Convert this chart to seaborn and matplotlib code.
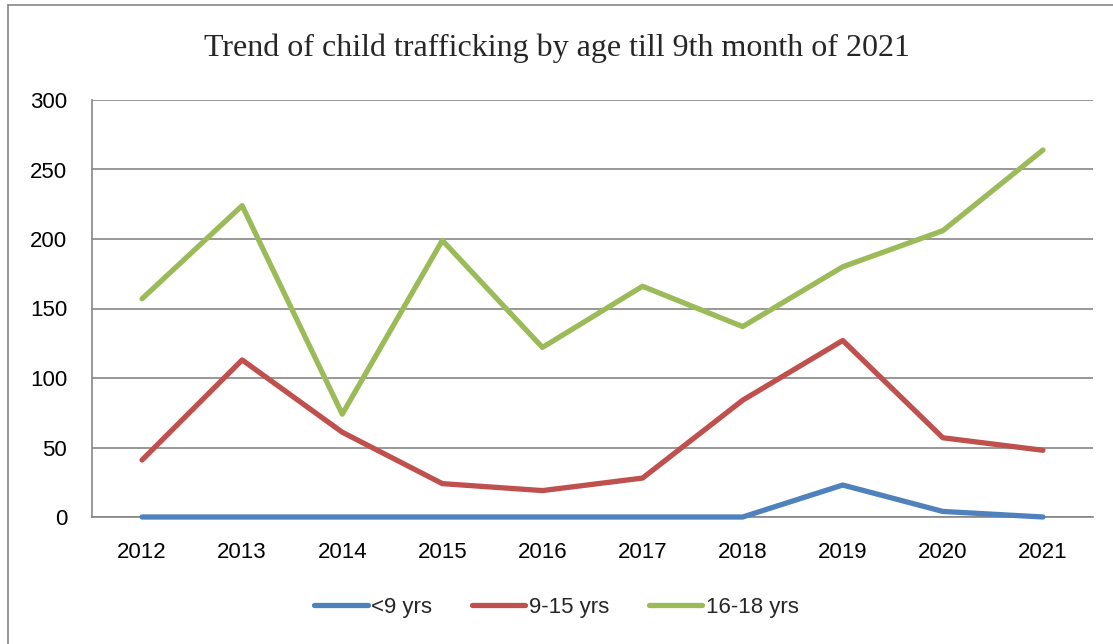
import matplotlib
matplotlib.use("Agg")
from matplotlib import pyplot as plt
from matplotlib.lines import Line2D
import pandas as pd
import seaborn as sns

years = [2012, 2013, 2014, 2015, 2016, 2017, 2018, 2019, 2020, 2021]
under_9 = [0, 0, 0, 0, 0, 0, 0, 23, 4, 0]
age_9_15 = [41, 113, 61, 24, 19, 28, 84, 127, 57, 48]
age_16_18 = [157, 224, 74, 199, 122, 166, 137, 180, 206, 264]
series_names = ["<9 yrs", "9-15 yrs", "16-18 yrs"]
colors = ["#4F81BD", "#C0504D", "#9BBB59"]

rows = []
for name, vals in zip(series_names, [under_9, age_9_15, age_16_18]):
    for i, (y, v) in enumerate(zip(years, vals)):
        rows.append({"pos": i, "year": y, "group": name, "count": v})
df = pd.DataFrame(rows)

sns.set_style("white")
plt.rcParams['font.family'] = ['Liberation Sans', 'DejaVu Sans']

fig = plt.figure(figsize=(11.13, 6.44), dpi=100)
ax = fig.add_axes([92 / 1113, 1 - 517 / 644, 1001 / 1113, 417 / 644])

sns.lineplot(data=df, x="pos", y="count", hue="group", hue_order=series_names,
             palette=colors, linewidth=3.8, ax=ax, legend=False)
for ln in ax.lines:
    ln.set_zorder(5)
    ln.set_clip_on(False)
    ln.set_solid_capstyle("round")
    ln.set_solid_joinstyle("round")

ax.set_xlim(-0.5, 9.5)
ax.set_ylim(0, 300)
ax.set_yticks(range(0, 301, 50))
ax.set_xticks(range(len(years)))
ax.set_xticklabels([str(y) for y in years])
ax.tick_params(axis="both", length=0, labelsize=16, colors="black")
ax.tick_params(axis="y", pad=18)
ax.tick_params(axis="x", pad=18)
ax.set_xlabel("")
ax.set_ylabel("")
ax.grid(axis="y", color="#868686", linewidth=1.2)
ax.set_axisbelow(True)
for side in ["top", "right"]:
    ax.spines[side].set_visible(False)
for side in ["left", "bottom"]:
    ax.spines[side].set_color("#868686")
    ax.spines[side].set_linewidth(1.2)

fig.text(0.5, 1 - 48 / 644, "Trend of child trafficking by age till 9th month of 2021",
         ha="center", va="center", fontsize=23, family=["Liberation Serif"])

handles = [Line2D([0], [0], color=c, linewidth=3.8, solid_capstyle="round") for c in colors]
fig.legend(handles, series_names, loc="center", bbox_to_anchor=(0.5, 1 - 607 / 644),
           ncol=3, frameon=False, fontsize=16, handlelength=2.4, handletextpad=0.15,
           columnspacing=1.8)

# figure border
fig.add_artist(Line2D([8 / 1113, 8 / 1113], [0, 1 - 5 / 644], color="#868686", linewidth=1.2))
fig.add_artist(Line2D([8 / 1113, 1], [1 - 5 / 644, 1 - 5 / 644], color="#868686", linewidth=1.2))

fig.savefig("out.png", dpi=100)
